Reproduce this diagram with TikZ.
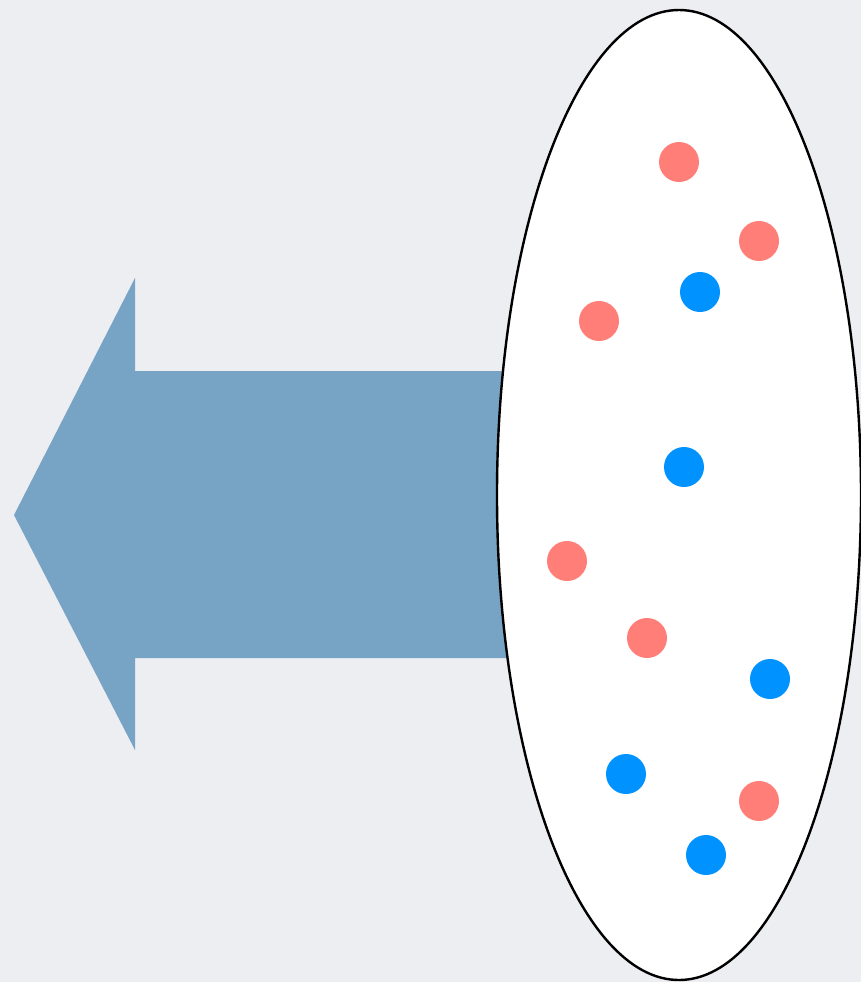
\documentclass[tikz,border=0pt]{standalone}
\definecolor{bg}{HTML}{EDEEF2}
\definecolor{arrowblue}{HTML}{77A3C4}
\definecolor{dotred}{HTML}{FF7F78}
\definecolor{dotblue}{HTML}{0093FF}
\begin{document}
\begin{tikzpicture}[x=0.5pt,y=-0.5pt,
  reddot/.style={circle,fill=dotred,minimum size=20pt,inner sep=0pt},
  bluedot/.style={circle,fill=dotblue,minimum size=20pt,inner sep=0pt}]
\fill[bg] (0,0) rectangle (861,982);
\useasboundingbox (0,0) rectangle (861,982);
\fill[arrowblue] (14,515) -- (135,278) -- (135,371) -- (540,371) -- (540,658) -- (135,658) -- (135,750) -- cycle;
\draw[fill=white,line width=1.2pt] (679,495) ellipse [x radius=182, y radius=485];
\node[reddot] (r1) at (679,162) {};
\node[reddot] (r2) at (759,241) {};
\node[reddot] (r3) at (599,321) {};
\node[reddot] (r4) at (567,561) {};
\node[reddot] (r5) at (647,638) {};
\node[reddot] (r6) at (759,801) {};
\node[bluedot] (b1) at (700,292) {};
\node[bluedot] (b2) at (684,467) {};
\node[bluedot] (b3) at (770,679) {};
\node[bluedot] (b4) at (626,774) {};
\node[bluedot] (b5) at (706,855) {};
\end{tikzpicture}
\end{document}
